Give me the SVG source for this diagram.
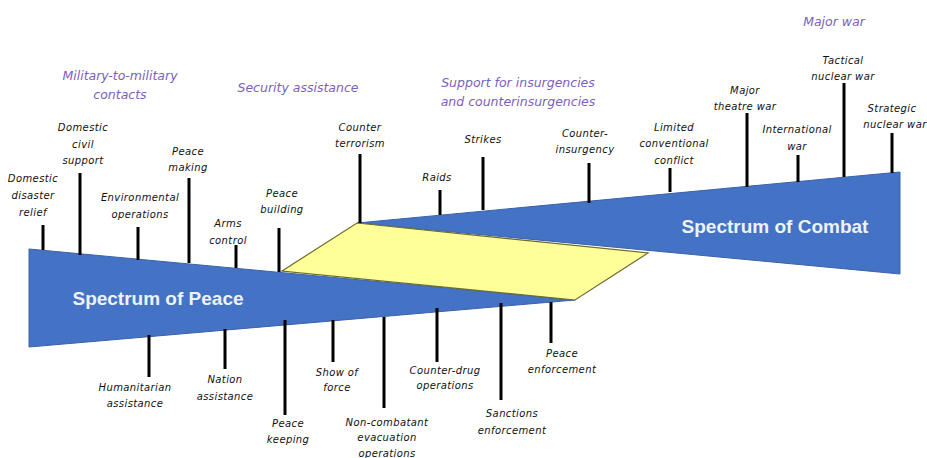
<svg xmlns="http://www.w3.org/2000/svg" width="927" height="458" viewBox="0 0 927 458">
<style>
.wedge{fill:#4472c4;stroke:#3a62a8;stroke-width:1}
.mid{fill:#ffff99;stroke:#6b6b2a;stroke-width:1.2}
.big{font-family:"Liberation Sans",Arial,sans-serif;font-weight:bold;font-size:19px;fill:#eef2fa;text-anchor:middle}
.lbl{font-family:"DejaVu Sans",Verdana,sans-serif;font-style:italic;font-size:10px;letter-spacing:0.4px;fill:#111;text-anchor:middle}
.hdr{font-family:"DejaVu Sans",Verdana,sans-serif;font-style:italic;font-size:12.5px;fill:#7a5fbf;text-anchor:middle}
.tick{stroke:#000;stroke-width:3;fill:none}
</style>
<rect width="927" height="458" fill="#fff"/>
<g id="peace-wedge">
<polygon class="wedge" points="29,249 575,300 29,347"/>
<text class="big" x="158" y="305">Spectrum of Peace</text>
</g>
<g id="combat-wedge">
<polygon class="wedge" points="357,223 900,172 900,274"/>
<text class="big" x="775" y="233">Spectrum of Combat</text>
</g>
<g id="overlap">
<polygon class="mid" points="282,271 357,223 648,253 575,300"/>
</g>
<g id="connectors">
<line class="tick" x1="43" y1="225" x2="43" y2="250"/>
<line class="tick" x1="80" y1="173" x2="80" y2="255"/>
<line class="tick" x1="138" y1="227" x2="138" y2="260"/>
<line class="tick" x1="189" y1="178" x2="189" y2="263"/>
<line class="tick" x1="236" y1="245" x2="236" y2="268"/>
<line class="tick" x1="279" y1="228" x2="279" y2="272"/>
<line class="tick" x1="360" y1="154" x2="360" y2="223"/>
<line class="tick" x1="440" y1="190" x2="440" y2="215"/>
<line class="tick" x1="483" y1="157" x2="483" y2="210"/>
<line class="tick" x1="589" y1="163" x2="589" y2="203"/>
<line class="tick" x1="670" y1="168" x2="670" y2="192"/>
<line class="tick" x1="747" y1="113" x2="747" y2="187"/>
<line class="tick" x1="798" y1="155" x2="798" y2="182"/>
<line class="tick" x1="844" y1="83" x2="844" y2="177"/>
<line class="tick" x1="892" y1="133" x2="892" y2="173"/>
<line class="tick" x1="149" y1="335" x2="149" y2="377"/>
<line class="tick" x1="225" y1="329" x2="225" y2="369"/>
<line class="tick" x1="285" y1="320" x2="285" y2="415"/>
<line class="tick" x1="333" y1="320" x2="333" y2="362"/>
<line class="tick" x1="384" y1="317" x2="384" y2="408"/>
<line class="tick" x1="437" y1="308" x2="437" y2="362"/>
<line class="tick" x1="501" y1="303" x2="501" y2="400"/>
<line class="tick" x1="551" y1="302" x2="551" y2="343"/>
</g>
<g id="hdr-military"><text class="hdr" x="120" y="80">Military-to-military</text><text class="hdr" x="120" y="99">contacts</text></g>
<g id="hdr-security"><text class="hdr" x="298" y="92">Security assistance</text></g>
<g id="hdr-support"><text class="hdr" x="518" y="87">Support for insurgencies</text><text class="hdr" x="518" y="106">and counterinsurgencies</text></g>
<g id="hdr-major"><text class="hdr" x="834" y="26">Major war</text></g>
<g id="lbl-disaster"><text class="lbl" x="33" y="182">Domestic</text><text class="lbl" x="33" y="199">disaster</text><text class="lbl" x="33" y="216">relief</text></g>
<g id="lbl-civil"><text class="lbl" x="83" y="131">Domestic</text><text class="lbl" x="83" y="148">civil</text><text class="lbl" x="83" y="164">support</text></g>
<g id="lbl-environmental"><text class="lbl" x="140" y="201">Environmental</text><text class="lbl" x="140" y="218">operations</text></g>
<g id="lbl-peacemaking"><text class="lbl" x="188" y="155">Peace</text><text class="lbl" x="188" y="171">making</text></g>
<g id="lbl-arms"><text class="lbl" x="228" y="227">Arms</text><text class="lbl" x="228" y="244">control</text></g>
<g id="lbl-peacebuilding"><text class="lbl" x="282" y="197">Peace</text><text class="lbl" x="282" y="213">building</text></g>
<g id="lbl-counterterrorism"><text class="lbl" x="360" y="131">Counter</text><text class="lbl" x="360" y="147">terrorism</text></g>
<g id="lbl-raids"><text class="lbl" x="437" y="181">Raids</text></g>
<g id="lbl-strikes"><text class="lbl" x="483" y="143">Strikes</text></g>
<g id="lbl-counterinsurgency"><text class="lbl" x="585" y="137">Counter-</text><text class="lbl" x="585" y="153">insurgency</text></g>
<g id="lbl-limited"><text class="lbl" x="674" y="131">Limited</text><text class="lbl" x="674" y="147">conventional</text><text class="lbl" x="674" y="164">conflict</text></g>
<g id="lbl-theatre"><text class="lbl" x="745" y="94">Major</text><text class="lbl" x="745" y="110">theatre war</text></g>
<g id="lbl-international"><text class="lbl" x="797" y="133">International</text><text class="lbl" x="797" y="150">war</text></g>
<g id="lbl-tactical"><text class="lbl" x="843" y="64">Tactical</text><text class="lbl" x="843" y="80">nuclear war</text></g>
<g id="lbl-strategic"><text class="lbl" x="892" y="112">Strategic</text><text class="lbl" x="895" y="128">nuclear war</text></g>
<g id="lbl-humanitarian"><text class="lbl" x="135" y="391">Humanitarian</text><text class="lbl" x="135" y="407">assistance</text></g>
<g id="lbl-nation"><text class="lbl" x="225" y="383">Nation</text><text class="lbl" x="225" y="400">assistance</text></g>
<g id="lbl-peacekeeping"><text class="lbl" x="288" y="427">Peace</text><text class="lbl" x="288" y="443">keeping</text></g>
<g id="lbl-show"><text class="lbl" x="337" y="376">Show of</text><text class="lbl" x="337" y="391">force</text></g>
<g id="lbl-noncombatant"><text class="lbl" x="387" y="426">Non-combatant</text><text class="lbl" x="387" y="441">evacuation</text><text class="lbl" x="387" y="457">operations</text></g>
<g id="lbl-counterdrug"><text class="lbl" x="445" y="374">Counter-drug</text><text class="lbl" x="445" y="389">operations</text></g>
<g id="lbl-sanctions"><text class="lbl" x="512" y="417">Sanctions</text><text class="lbl" x="512" y="434">enforcement</text></g>
<g id="lbl-peaceenforcement"><text class="lbl" x="562" y="357">Peace</text><text class="lbl" x="562" y="373">enforcement</text></g>
</svg>
